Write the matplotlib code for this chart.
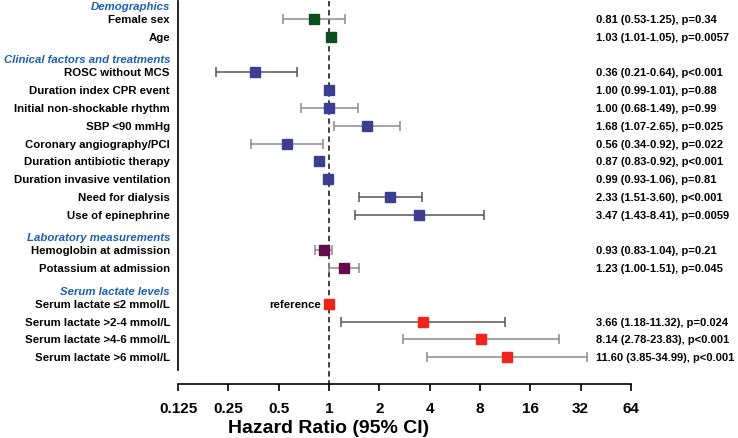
import numpy as np
import matplotlib
matplotlib.use('Agg')
import matplotlib.pyplot as plt
import matplotlib.transforms as mtransforms

plt.rcParams['font.family'] = ['Liberation Sans', 'DejaVu Sans']

# rows (y position, label, hr, lo, hi, colour key)
labels = ["Female sex", "Age",
          "ROSC without MCS", "Duration index CPR event", "Initial non-shockable rhythm",
          "SBP <90 mmHg", "Coronary angiography/PCI", "Duration antibiotic therapy",
          "Duration invasive ventilation", "Need for dialysis", "Use of epinephrine",
          "Hemoglobin at admission", "Potassium at admission",
          "Serum lactate \u22642 mmol/L", "Serum lactate >2-4 mmol/L",
          "Serum lactate >4-6 mmol/L", "Serum lactate >6 mmol/L"]
rows = [1, 2, 4, 5, 6, 7, 8, 9, 10, 11, 12, 14, 15, 17, 18, 19, 20]
hr = [0.81, 1.03, 0.36, 1.00, 1.00, 1.68, 0.56, 0.87, 0.99, 2.33, 3.47,
      0.93, 1.23, 1.00, 3.66, 8.14, 11.60]
lo = [0.53, 1.01, 0.21, 0.99, 0.68, 1.07, 0.34, 0.83, 0.93, 1.51, 1.43,
      0.83, 1.00, 1.00, 1.18, 2.78, 3.85]
hi = [1.25, 1.05, 0.64, 1.01, 1.49, 2.65, 0.92, 0.92, 1.06, 3.60, 8.41,
      1.04, 1.51, 1.00, 11.32, 23.83, 34.99]
pvals = ["p=0.34", "p=0.0057", "p<0.001", "p=0.88", "p=0.99", "p=0.025", "p=0.022",
         "p<0.001", "p=0.81", "p<0.001", "p=0.0059", "p=0.21", "p=0.045",
         None, "p=0.024", "p<0.001", "p<0.001"]
groups = [0, 0, 1, 1, 1, 1, 1, 1, 1, 1, 1, 2, 2, 3, 3, 3, 3]
group_colors = ["#0d4f1c", "#3c3f91", "#650a4c", "#f2231b"]

headers = ["Demographics", "Clinical factors and treatments",
           "Laboratory measurements", "Serum lactate levels"]
header_rows = [0, 3, 13, 16]

xticks = [0.125, 0.25, 0.5, 1, 2, 4, 8, 16, 32, 64]
xticklabels = ["0.125", "0.25", "0.5", "1", "2", "4", "8", "16", "32", "64"]

fig = plt.figure(figsize=(7.38, 4.39), dpi=100)
ax = fig.add_axes([178/738, 1-385/439, (631-178)/738, 385/439])

ax.set_xscale('log', base=2)
ax.set_xlim(0.125, 64)
ax.set_ylim(21.5, -0.124)

ax.plot([1, 1], [0.0, 21.5], color='#333333', ls=(0, (3, 2)), lw=1.3, zorder=1)

for i in range(len(labels)):
    c = group_colors[groups[i]]
    if pvals[i] is not None:
        ecol = '#555555' if i in (2, 9, 10, 14) else '#8a8a8a'
        ax.errorbar(hr[i], rows[i], xerr=[[hr[i]-lo[i]], [hi[i]-hr[i]]], fmt='none',
                    ecolor=ecol, elinewidth=1.1, capsize=3.6, capthick=1.1, zorder=2)
    ax.plot(hr[i], rows[i], marker='s', ms=7.2, color=c, mec=c, ls='none', zorder=3)

# right-hand text
tr = mtransforms.blended_transform_factory(fig.transFigure, ax.transData)
for i in range(len(labels)):
    if pvals[i] is None:
        continue
    s = "%.2f (%.2f-%.2f), %s" % (hr[i], lo[i], hi[i], pvals[i])
    ax.text(596/738, rows[i], s, transform=tr, ha='left', va='center',
            fontsize=8.0, fontweight='bold', clip_on=False)

ax.text(0.89, rows[13], "reference", ha='right', va='center', fontsize=8.2, fontweight='bold')

# left labels
tl = mtransforms.blended_transform_factory(fig.transFigure, ax.transData)
for i in range(len(labels)):
    ax.text(170/738, rows[i], labels[i], transform=tl, ha='right', va='center',
            fontsize=8.2, fontweight='bold', clip_on=False)
for h, r in zip(headers, header_rows):
    ax.text(170/738, r + 0.25, h, transform=tl, ha='right', va='center',
            fontsize=8.2, fontweight='bold', style='italic', color='#1a5fb4', clip_on=False)

for side in ['top', 'right']:
    ax.spines[side].set_visible(False)
ax.spines['left'].set_bounds(0.0, 20.7)
ax.spines['left'].set_linewidth(1.2)
ax.spines['bottom'].set_bounds(0.125, 64)
ax.spines['bottom'].set_linewidth(1.2)
ax.set_yticks([])
ax.set_xticks(xticks)
ax.set_xticklabels(xticklabels, fontsize=11, fontweight='bold')
ax.minorticks_off()
ax.tick_params(axis='x', length=5, width=1.2, pad=7)
ax.set_xlabel("Hazard Ratio (95% CI)", fontsize=14, fontweight='bold')
ax.xaxis.set_label_coords((329-178)/453, -0.092)

fig.savefig("out.png", dpi=100)
